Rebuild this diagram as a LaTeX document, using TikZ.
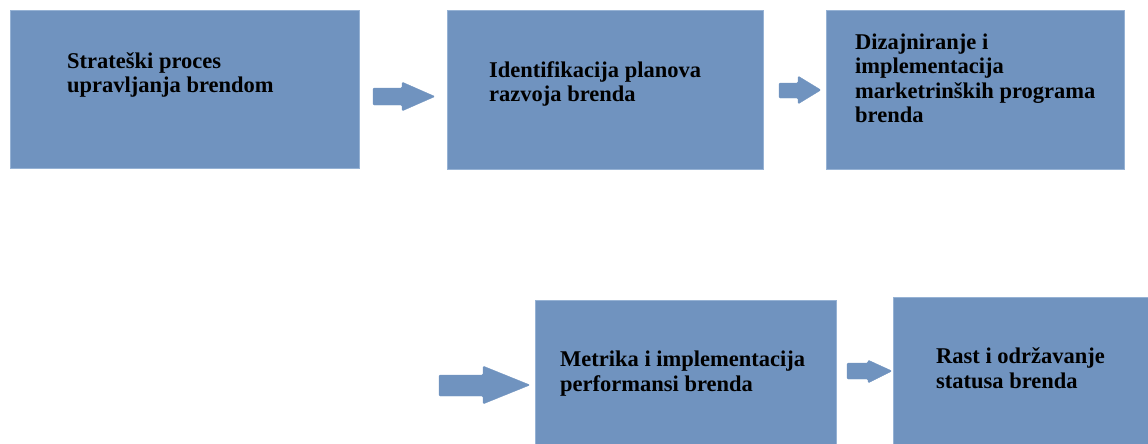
\documentclass[tikz,border=0pt]{standalone}
\usepackage{fontspec}
\setmainfont{Liberation Serif}[BoldFont={Liberation Serif Bold}]
\definecolor{boxfill}{RGB}{112,147,191}
\definecolor{boxedge}{RGB}{150,178,212}
\tikzset{
  stepbox/.style={draw=boxedge, line width=0.6pt, fill=boxfill},
  steptext/.style={anchor=base west, inner sep=0pt, align=left,
    font=\fontsize{22.5}{24.5}\selectfont\bfseries, text=black},
  blockarrow/.style={fill=boxfill, draw=boxfill, line width=0.3pt, rounded corners=1.2pt}
}
\begin{document}
\begin{tikzpicture}[x=1pt,y=-1pt]
\useasboundingbox (0,0) rectangle (1148,444);
% boxes
\draw[stepbox] (10,10) rectangle (359,168);
\draw[stepbox] (447,10) rectangle (763,169);
\draw[stepbox] (826,10) rectangle (1124,169);
\draw[stepbox] (535,300) rectangle (836,450);
\draw[stepbox] (893,297) rectangle (1152,450);
% texts (anchor = baseline of last line)
\node[steptext] (t1) at (67,92.5) {Strateški proces\\upravljanja brendom};
\node[steptext] (t2) at (489,101.5) {Identifikacija planova\\razvoja brenda};
\node[steptext] (t3) at (855,122.5) {Dizajniranje i\\implementacija\\marketrinških programa\\brenda};
\node[steptext] (t4) at (560,391) {Metrika i implementacija\\performansi brenda};
\node[steptext] (t5) at (936,388) {Rast i održavanje\\statusa brenda};
% block arrows
\filldraw[blockarrow] (373,88) -- (402,88) -- (402,82) -- (435,96.5) -- (402,111) -- (402,105) -- (373,105) -- cycle;
\filldraw[blockarrow] (779,83) -- (798,83) -- (798,76) -- (821,90) -- (798,104) -- (798,98) -- (779,98) -- cycle;
\filldraw[blockarrow] (439,375) -- (483,375) -- (483,366) -- (530,385) -- (483,404) -- (483,396) -- (439,396) -- cycle;
\filldraw[blockarrow] (847,363) -- (868,363) -- (868,360) -- (892,371) -- (868,383) -- (868,379) -- (847,379) -- cycle;
\end{tikzpicture}
\end{document}
